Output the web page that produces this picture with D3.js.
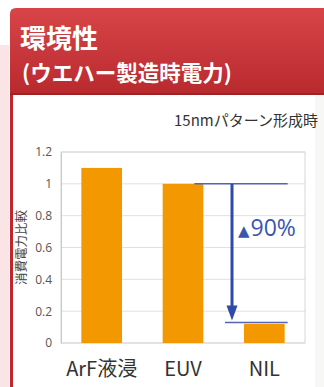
<!DOCTYPE html>
<html>
<head>
<meta charset="utf-8">
<script src="https://cdn.jsdelivr.net/npm/d3@7"></script>
<style>
  body { margin: 0; background: #fff; }
  svg { display: block; font-family: "Noto Sans CJK JP", "Noto Sans", sans-serif; }
</style>
</head>
<body>
<svg id="chart" width="324" height="387"></svg>
<script>
// chart data
const categories = ["ArF液浸", "EUV", "NIL"];
const powerRatio = [1.1, 1.0, 0.12];
const yTicks = [0, 0.2, 0.4, 0.6, 0.8, 1, 1.2];
const reductionLabel = "90%";

const width = 324, height = 387;
const margin = { top: 152, right: 19, bottom: 44, left: 61 };

const svg = d3.select("#chart");
const defs = svg.append("defs");

const grad = defs.append("linearGradient")
    .attr("id", "banner").attr("x1", 0).attr("y1", 0).attr("x2", 0).attr("y2", 1);
grad.append("stop").attr("offset", "0%").attr("stop-color", "#d84549");
grad.append("stop").attr("offset", "100%").attr("stop-color", "#b8292d");

// page frame: pink strip, red banner, white panel with red edge
svg.append("rect").attr("x", 0).attr("y", 45).attr("width", 9).attr("height", height - 45).attr("fill", "#fbe4e6");
svg.append("rect").attr("x", 10).attr("y", 95).attr("width", 3).attr("height", height - 95).attr("fill", "#c0262b");
svg.append("rect").attr("x", 315).attr("y", 95).attr("width", 9).attr("height", height - 95).attr("fill", "#f7f7f5");

svg.append("path")
    .attr("d", "M10,95 L10,14 Q10,8 16,8 L324,8 L324,95 Z")
    .attr("fill", "url(#banner)");
svg.append("rect").attr("x", 10).attr("y", 93).attr("width", 314).attr("height", 2).attr("fill", "#9c2226");

svg.append("text").attr("x", 20).attr("y", 48)
    .attr("fill", "#fff").attr("font-size", 26).attr("font-weight", "bold")
    .text("環境性");
svg.append("text").attr("x", 22).attr("y", 81)
    .attr("fill", "#fff").attr("font-size", 21.5).attr("font-weight", "bold")
    .text("(ウエハー製造時電力)");

svg.append("text").attr("x", 318).attr("y", 126)
    .attr("text-anchor", "end").attr("fill", "#333").attr("font-size", 15)
    .text("15nmパターン形成時");

// scales
const x = d3.scaleBand()
    .domain(categories)
    .range([margin.left, width - margin.right])
    .paddingInner(0.5).paddingOuter(0.25);

const y = d3.scaleLinear()
    .domain([0, 1.2])
    .range([height - margin.bottom, margin.top]);

// grid + frame
svg.append("g")
    .selectAll("line")
    .data(yTicks)
    .join("line")
    .attr("x1", margin.left).attr("x2", width - margin.right)
    .attr("y1", d => y(d)).attr("y2", d => y(d))
    .attr("stroke", "#e0e0e0").attr("stroke-width", 1);

svg.append("rect")
    .attr("x", margin.left).attr("y", margin.top)
    .attr("width", width - margin.right - margin.left)
    .attr("height", y(0) - margin.top)
    .attr("fill", "none").attr("stroke", "#d6d6d6");

// y axis
const yAxis = svg.append("g")
    .attr("transform", `translate(${margin.left},0)`)
    .call(d3.axisLeft(y).tickValues(yTicks).tickSize(0).tickPadding(9).tickFormat(d3.format("~g")));
yAxis.select(".domain").attr("stroke", "#c8c8c8");
yAxis.selectAll("text").attr("fill", "#555").attr("font-size", 12)
    .attr("font-family", "'Open Sans', 'Noto Sans', sans-serif");

svg.append("text")
    .attr("transform", `translate(26,${(y(0) + y(1.2)) / 2}) rotate(-90)`)
    .attr("text-anchor", "middle").attr("fill", "#444").attr("font-size", 12.5)
    .text("消費電力比較");

// bars
svg.append("g")
    .selectAll("rect")
    .data(categories)
    .join("rect")
    .attr("x", d => x(d))
    .attr("width", x.bandwidth())
    .attr("y", (d, i) => y(powerRatio[i]))
    .attr("height", (d, i) => y(0) - y(powerRatio[i]))
    .attr("fill", "#f39800");

// x labels
svg.append("g")
    .selectAll("text")
    .data(categories)
    .join("text")
    .attr("x", d => x(d) + x.bandwidth() / 2)
    .attr("y", 376)
    .attr("text-anchor", "middle").attr("fill", "#333").attr("font-size", 20)
    .text(d => d);

// reduction annotation between EUV and NIL
const topY = y(powerRatio[1]);
const botY = y(powerRatio[2]) - 1.5;
const arrowX = x("NIL") - 12;
const blue = "#2f4aa8";

svg.append("line")
    .attr("x1", x("EUV") + x.bandwidth() - 9).attr("x2", x("NIL") + x.bandwidth() + 3)
    .attr("y1", topY).attr("y2", topY)
    .attr("stroke", "#5366b5").attr("stroke-width", 1.5);
svg.append("line")
    .attr("x1", arrowX - 7).attr("x2", x("NIL") + x.bandwidth() + 3)
    .attr("y1", botY).attr("y2", botY)
    .attr("stroke", "#5366b5").attr("stroke-width", 1.5);
svg.append("line")
    .attr("x1", arrowX).attr("x2", arrowX)
    .attr("y1", topY).attr("y2", botY - 14)
    .attr("stroke", blue).attr("stroke-width", 3);
svg.append("path")
    .attr("d", `M${arrowX - 5.5},${botY - 17} L${arrowX + 5.5},${botY - 17} L${arrowX},${botY - 2} Z`)
    .attr("fill", blue);

const note = svg.append("text")
    .attr("x", arrowX + 6).attr("y", 236)
    .attr("fill", "#3a55b0")
    .attr("font-family", "'Open Sans', 'Noto Sans', sans-serif");
note.append("tspan").attr("font-size", 15).attr("font-family", "'DejaVu Sans', sans-serif").text("▲");
note.append("tspan").attr("font-size", 23).attr("dx", 1).text(reductionLabel);
</script>
</body>
</html>
